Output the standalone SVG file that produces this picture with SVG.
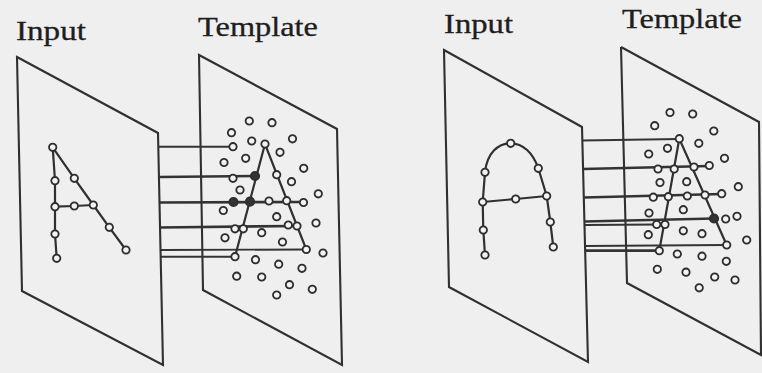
<svg xmlns="http://www.w3.org/2000/svg" width="762" height="373" viewBox="0 0 762 373">
<style>
.bg{fill:#efefef}
.panel{fill:none;stroke:#303030;stroke-width:2.1;stroke-linejoin:miter}
.lbl{font-family:"Liberation Serif",serif;font-size:27px;fill:#1e1e1e;stroke:#1e1e1e;stroke-width:0.3}
.con line{stroke:#333;stroke-width:1.9}
.con line.thk{stroke-width:2.7}
.edge{fill:none;stroke:#303030;stroke-width:2.2}
.n{fill:#f3f3f3;stroke:#2e2e2e;stroke-width:1.8}
.d{fill:#333;stroke:#2e2e2e;stroke-width:1.8}
</style>
<defs>
<circle id="nd" r="3.7" class="n"/>
<circle id="dk" r="4.2" class="d"/>
</defs>
<rect class="bg" x="0" y="0" width="762" height="373"/>

<g id="input-left">
<text class="lbl" x="16" y="40" textLength="70" lengthAdjust="spacingAndGlyphs">Input</text>
<polygon class="panel" points="17,57 158,133 163,365 22,291"/>
<path class="edge" d="M52.7,147.3 L55,180.7 L55,206.7 L55,234 L56.7,258.3 M52.7,147.3 L74.3,178.3 L93.3,205 L109.3,227.3 L126,250 M55,206.7 L74.3,206 L93.3,205"/>
<g>
<use href="#nd" x="52.7" y="147.3"/><use href="#nd" x="55" y="180.7"/><use href="#nd" x="55" y="206.7"/>
<use href="#nd" x="55" y="234"/><use href="#nd" x="56.7" y="258.3"/><use href="#nd" x="74.3" y="178.3"/>
<use href="#nd" x="93.3" y="205"/><use href="#nd" x="109.3" y="227.3"/><use href="#nd" x="126" y="250"/>
<use href="#nd" x="74.3" y="206"/>
</g>
</g>

<g id="template-left">
<text class="lbl" x="198" y="36" textLength="120" lengthAdjust="spacingAndGlyphs">Template</text>
<polygon class="panel" points="199,55 337,129 342,365 203,290"/>
</g>

<g id="input-right">
<text class="lbl" x="444" y="33" textLength="69" lengthAdjust="spacingAndGlyphs">Input</text>
<polygon class="panel" points="444,50 582,127 588,362 449,287"/>
<path class="edge" d="M485,255 L483.3,230 L482.7,202 L485,172.3 C487,153 498,143.3 510.7,143.3 C523,143.3 533,153 538.3,168.3 L546.7,196 L550.3,222 L553.3,247 M482.7,202 L515.7,199 L546.7,196"/>
<g>
<use href="#nd" x="510.7" y="143.3"/><use href="#nd" x="485" y="172.3"/><use href="#nd" x="538.3" y="168.3"/>
<use href="#nd" x="482.7" y="202"/><use href="#nd" x="515.7" y="199"/><use href="#nd" x="546.7" y="196"/>
<use href="#nd" x="483.3" y="230"/><use href="#nd" x="485" y="255"/><use href="#nd" x="550.3" y="222"/>
<use href="#nd" x="553.3" y="247"/>
</g>
</g>

<g id="template-right">
<text class="lbl" x="622" y="28" textLength="120" lengthAdjust="spacingAndGlyphs">Template</text>
<polyline class="panel" points="621,47 759,122 761,355 627,283 621,47"/>
</g>

<g id="connectors" class="con">
<line x1="158.3" y1="146.7" x2="233" y2="146.7"/>
<line class="thk" x1="159" y1="177" x2="255" y2="176"/>
<line class="thk" x1="159.5" y1="202.5" x2="304" y2="202"/>
<line class="thk" x1="160" y1="227.5" x2="297" y2="226"/>
<line x1="160.5" y1="250" x2="306.3" y2="249.5"/>
<line x1="160.5" y1="256.7" x2="235" y2="256.7"/>

<line x1="582.3" y1="140.5" x2="679.3" y2="139"/>
<line class="thk" x1="583" y1="169" x2="709.3" y2="166"/>
<line class="thk" x1="583.7" y1="197.5" x2="721.7" y2="194"/>
<line class="thk" x1="584.4" y1="221.5" x2="714" y2="218.5"/>
<line x1="584.5" y1="225" x2="657" y2="224.5"/>
<line x1="585" y1="246" x2="726.7" y2="245"/>
<line class="thk" x1="585.1" y1="250.7" x2="659.3" y2="250.7"/>
</g>

<g id="template-left-dots">
<path class="edge" d="M235,256.7 L265,144 L306.3,249.5"/>
<use href="#nd" x="249.3" y="121"/><use href="#nd" x="272" y="122.7"/><use href="#nd" x="231.5" y="132.7"/>
<use href="#nd" x="251.7" y="141"/><use href="#nd" x="292.5" y="138.8"/><use href="#nd" x="233" y="146.7"/>
<use href="#nd" x="265" y="144"/><use href="#nd" x="280" y="152.3"/><use href="#nd" x="224" y="162.5"/>
<use href="#nd" x="245.7" y="158.3"/><use href="#nd" x="303.7" y="168.3"/><use href="#nd" x="276.7" y="174.7"/>
<use href="#nd" x="233" y="178.3"/><use href="#dk" x="255" y="176"/><use href="#nd" x="291.5" y="181.7"/>
<use href="#nd" x="240" y="190"/><use href="#nd" x="318.3" y="193.8"/><use href="#nd" x="303.5" y="202.5"/>
<use href="#dk" x="233.5" y="202"/><use href="#dk" x="250" y="201.7"/><use href="#nd" x="269" y="201"/>
<use href="#nd" x="286.7" y="200.7"/><use href="#nd" x="223.3" y="210.5"/><use href="#nd" x="276.7" y="216.7"/>
<use href="#nd" x="316" y="223"/><use href="#nd" x="235" y="228.8"/><use href="#nd" x="243.3" y="228.8"/>
<use href="#nd" x="261.7" y="232.7"/><use href="#nd" x="288.3" y="225"/><use href="#nd" x="297" y="226"/>
<use href="#nd" x="225" y="237.8"/><use href="#nd" x="282.5" y="242"/><use href="#nd" x="306.3" y="249.5"/>
<use href="#nd" x="323" y="253"/><use href="#nd" x="235" y="256.7"/><use href="#nd" x="255.5" y="259.7"/>
<use href="#nd" x="278.7" y="264.2"/><use href="#nd" x="302" y="268.3"/><use href="#nd" x="236.7" y="276.2"/>
<use href="#nd" x="261.7" y="277"/><use href="#nd" x="289.5" y="284.7"/><use href="#nd" x="312.3" y="289.3"/>
<use href="#nd" x="276.7" y="295"/>
</g>

<g id="template-right-dots">
<path class="edge" d="M659.3,250.7 L679.3,138.7 L726.7,245"/>
<use href="#nd" x="670" y="112.5"/><use href="#nd" x="692.7" y="114"/><use href="#nd" x="654.7" y="125.7"/>
<use href="#nd" x="713.8" y="131"/><use href="#nd" x="679.3" y="138.7"/><use href="#nd" x="667.5" y="148.3"/>
<use href="#nd" x="698.8" y="143.3"/><use href="#nd" x="648.7" y="154"/><use href="#nd" x="724.5" y="158.3"/>
<use href="#nd" x="658" y="169"/><use href="#nd" x="674.2" y="169"/><use href="#nd" x="694" y="167"/>
<use href="#nd" x="709.3" y="165.5"/><use href="#nd" x="660" y="182.5"/><use href="#nd" x="686.7" y="181.7"/>
<use href="#nd" x="738.3" y="186.7"/><use href="#nd" x="653.3" y="197.2"/><use href="#nd" x="668.3" y="196.7"/>
<use href="#nd" x="687.3" y="196"/><use href="#nd" x="705" y="195"/><use href="#nd" x="721.7" y="193.7"/>
<use href="#nd" x="649" y="213"/><use href="#nd" x="683.3" y="209.7"/><use href="#nd" x="656.7" y="224.5"/>
<use href="#nd" x="665" y="224.5"/><use href="#dk" x="714" y="218.5"/><use href="#nd" x="725.7" y="219"/>
<use href="#nd" x="737" y="216.3"/><use href="#nd" x="648.3" y="234.7"/><use href="#nd" x="683.3" y="230.8"/>
<use href="#nd" x="702" y="233.7"/><use href="#nd" x="746.7" y="240"/><use href="#nd" x="726.7" y="245"/>
<use href="#nd" x="659.3" y="250.7"/><use href="#nd" x="677.3" y="254"/><use href="#nd" x="702" y="256.2"/>
<use href="#nd" x="726.3" y="261.3"/><use href="#nd" x="657.3" y="269.3"/><use href="#nd" x="686" y="272.2"/>
<use href="#nd" x="714.7" y="277"/><use href="#nd" x="735" y="280"/><use href="#nd" x="699.2" y="287.8"/>
</g>
</svg>
